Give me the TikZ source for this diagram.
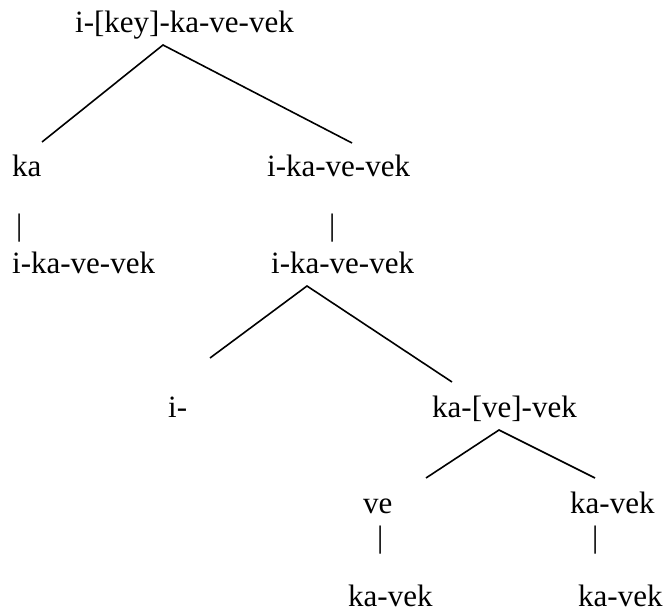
\documentclass[tikz,border=0pt]{standalone}
\usepackage{fontspec}
\setmainfont{Liberation Serif}
\begin{document}
\begin{tikzpicture}[x=1pt,y=-1pt,
  lbl/.style={anchor=base west,inner sep=0pt,font=\fontsize{31}{37}\selectfont},
  edge/.style={line width=1.6pt,black}]
\useasboundingbox (0,0) rectangle (666,612);
% texts
\node[lbl] (root) at (75,33) {i-[key]-ka-ve-vek};
\node[lbl] (ka) at (12,177) {ka};
\node[lbl] (ikR) at (267,177) {i-ka-ve-vek};
\node[lbl] (barL) at (16,236) {|};
\node[lbl] (barR) at (329,236) {|};
\node[lbl] (ikL3) at (12,273) {i-ka-ve-vek};
\node[lbl] (ikR3) at (271,273) {i-ka-ve-vek};
\node[lbl] (i) at (168,417) {i-};
\node[lbl] (kave) at (432,417) {ka-[ve]-vek};
\node[lbl] (ve) at (363,513) {ve};
\node[lbl] (kavek) at (570,513) {ka-vek};
\node[lbl] (barV) at (377,547) {|};
\node[lbl] (barK) at (592,547) {|};
\node[lbl] (kvL) at (348,606) {ka-vek};
\node[lbl] (kvR) at (578,606) {ka-vek};
% connector end points
\coordinate (a1) at (163,45);
\coordinate (a1l) at (42,142);
\coordinate (a1r) at (352,143);
\coordinate (a2) at (307,286);
\coordinate (a2l) at (210,358);
\coordinate (a2r) at (452,382);
\coordinate (a3) at (499,430);
\coordinate (a3l) at (426,478);
\coordinate (a3r) at (595,478);
\draw[edge] (a1l) -- (a1) -- (a1r);
\draw[edge] (a2l) -- (a2) -- (a2r);
\draw[edge] (a3l) -- (a3) -- (a3r);
\end{tikzpicture}
\end{document}
